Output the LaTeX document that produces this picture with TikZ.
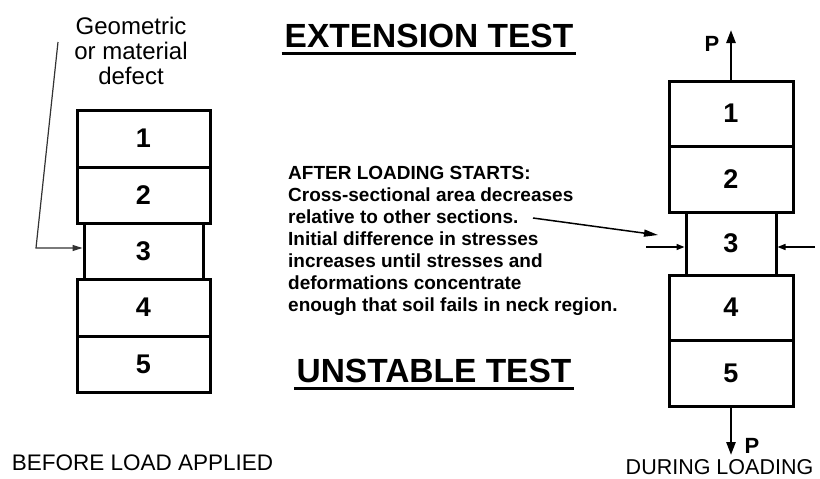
\documentclass[tikz,border=0pt]{standalone}
\usepackage{fontspec}
\setmainfont{Liberation Sans}
\usetikzlibrary{arrows.meta}

\tikzset{
  blk/.style={draw=black, line width=3pt, fill=white, inner sep=0pt,
              font=\fontsize{27}{27}\selectfont\bfseries},
  title/.style={font=\fontsize{33.5}{36}\selectfont\bfseries, inner sep=0pt, anchor=base},
  uline/.style={line width=3pt},
  plain/.style={font=\fontsize{22}{24}\selectfont, inner sep=0pt, anchor=base},
  pload/.style={line width=2.5pt, -{Triangle[length=13pt,width=9pt]}},
  squeeze/.style={line width=1.5pt, -{Triangle[length=8pt,width=6pt]}},
  pointer/.style={line width=1.5pt, -{Triangle[length=14pt,width=7pt]}},
  defect/.style={line width=1.2pt, draw=black!80, -{Triangle[length=10pt,width=6pt]}},
  plabel/.style={font=\fontsize{22}{22}\selectfont\bfseries, inner sep=0pt},
}

\begin{document}
\begin{tikzpicture}[x=1pt, y=-1pt]
  \useasboundingbox (0,0) rectangle (820,479);
  \fill[white] (0,0) rectangle (820,479);

  % ---- specimen before loading ----
  \node[blk, minimum width=133pt, minimum height=57pt] (L1) at (143.5,138.5) {1};
  \node[blk, minimum width=133pt, minimum height=56pt] (L2) at (143.5,195) {2};
  \node[blk, minimum width=119pt, minimum height=56pt] (L3) at (143.5,251) {3};
  \node[blk, minimum width=133pt, minimum height=57pt] (L4) at (143.5,307.5) {4};
  \node[blk, minimum width=133pt, minimum height=56pt] (L5) at (143.5,364) {5};

  \node[font=\fontsize{24}{25}\selectfont, align=center, inner sep=0pt] (defl) at (131,51)
       {Geometric\\or material\\defect};
  \coordinate (d0) at (58,42);
  \coordinate (d1) at (36,248);
  \draw[defect] (d0) -- (d1) -- (d1 -| L3.west);

  \node[plain, font=\fontsize{22.5}{24}\selectfont] (before) at (142.5,470) {BEFORE LOAD APPLIED};

  % ---- titles ----
  \node[title] (ext) at (429,47) {EXTENSION TEST};
  \draw[uline] ([yshift=-6pt]ext.base west) ++(-3,0) -- ([xshift=3pt,yshift=-6pt]ext.base east);
  \node[title] (uns) at (434,382) {UNSTABLE TEST};
  \draw[uline] ([yshift=-6pt]uns.base west) ++(-2,0) -- ([xshift=2pt,yshift=-6pt]uns.base east);

  % ---- description ----
  \node[font=\fontsize{19}{22}\selectfont\bfseries, align=left, anchor=north west, inner sep=0pt]
       (desc) at (288,166)
       {AFTER LOADING STARTS:\\
        Cross-sectional area decreases\\
        relative to other sections.\\
        Initial difference in stresses\\
        increases until stresses and\\
        deformations concentrate\\
        enough that soil fails in neck region.};

  % ---- specimen during loading ----
  \node[blk, minimum width=124pt, minimum height=65pt] (R1) at (731,113.5) {1};
  \node[blk, minimum width=124pt, minimum height=66pt] (R2) at (731,179) {2};
  \node[blk, minimum width=90pt,  minimum height=63pt] (R3) at (731,243.5) {3};
  \node[blk, minimum width=124pt, minimum height=65pt] (R4) at (731,307.5) {4};
  \node[blk, minimum width=124pt, minimum height=66pt] (R5) at (731,373) {5};

  \coordinate (ptop) at (731,30);
  \coordinate (pbot) at (731,455);
  \draw[pload] (R1.north) -- (ptop);
  \draw[pload] (R5.south) -- (pbot);
  \node[plabel] (p1) at (712,43.5) {P};
  \node[plabel] (p2) at (752,446) {P};

  \coordinate (sl) at (646,247);
  \coordinate (sr) at (815,247);
  \draw[squeeze] (sl) -- (sl -| R3.west);
  \draw[squeeze] (sr) -- (sr -| R3.east);

  \coordinate (a0) at (533,218);
  \coordinate (a1) at (658,235);
  \draw[pointer] (a0) -- (a1);

  \node[plain, font=\fontsize{21.5}{24}\selectfont] (during) at (719.5,474) {DURING LOADING};
\end{tikzpicture}
\end{document}
